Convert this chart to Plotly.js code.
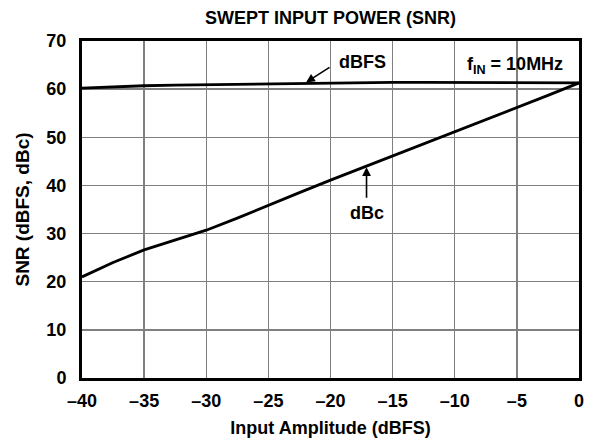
<!DOCTYPE html>
<html><head><meta charset="utf-8">
<script src="https://cdn.plot.ly/plotly-3.0.1.min.js"></script>
<style>body{margin:0;background:#fff}#chart{width:592px;height:445px}</style>
</head><body><div id="chart"></div>
<script>
const xVals = [-40, -37.5, -35, -32.5, -30, -27.5, -25, -22.5, -20, -17.5, -15, -12.5, -10, -7.5, -5, -2.5, 0];
const dbfs = [60.2, 60.5, 60.7, 60.85, 60.95, 61.0, 61.1, 61.15, 61.3, 61.35, 61.4, 61.4, 61.4, 61.4, 61.35, 61.3, 61.3];
const dbc  = [21.0, 24.0, 26.6, 28.7, 30.7, 33.2, 35.9, 38.5, 41.1, 43.6, 46.1, 48.6, 51.1, 53.6, 56.1, 58.7, 61.3];
const xTicks = [-40, -35, -30, -25, -20, -15, -10, -5, 0];
const xTickText = ["–40", "–35", "–30", "–25", "–20", "–15", "–10", "–5", "0"];
const yTicks = [0, 10, 20, 30, 40, 50, 60, 70];

const fam = "Liberation Sans, Arial, Helvetica, sans-serif";
const f = (s) => ({family: fam, size: s, color: "#000", weight: "bold"});
const traces = [
  {x: xVals, y: dbfs, mode: "lines", line: {color: "#000", width: 2.8}, hoverinfo: "skip"},
  {x: xVals, y: dbc, mode: "lines", line: {color: "#000", width: 2.8}, hoverinfo: "skip"}
];
const layout = {
  width: 592, height: 445,
  margin: {l: 82, r: 13, t: 41, b: 67},
  paper_bgcolor: "#fff", plot_bgcolor: "#fff",
  showlegend: false,
  font: f(17),
  title: {text: "<b>SWEPT INPUT POWER (SNR)</b>", x: 0.5, xref: "paper", xanchor: "center", y: 1 - 18/445, yanchor: "middle", font: f(18)},
  xaxis: {range: [-40, 0], tickvals: xTicks, ticktext: xTickText, showgrid: true, gridcolor: "#808080", gridwidth: 1.3,
    zeroline: false, showline: true, mirror: true, linecolor: "#000", linewidth: 3,
    ticks: "outside", ticklen: 4, tickcolor: "rgba(0,0,0,0)",
    tickfont: f(18),
    title: {text: "<b>Input Amplitude (dBFS)</b>", font: f(18), standoff: 12}},
  yaxis: {range: [0, 70], tickvals: yTicks, showgrid: true, gridcolor: "#808080", gridwidth: 1.3,
    zeroline: false, showline: true, mirror: true, linecolor: "#000", linewidth: 3,
    ticks: "outside", ticklen: 9, tickcolor: "rgba(0,0,0,0)",
    tickfont: f(18),
    title: {text: "<b>SNR (dBFS, dBc)</b>", font: f(19), standoff: 12}},
  annotations: [
    {x: -21.97, y: 61.4, xref: "x", yref: "y", ax: 25, ay: -16, showarrow: true, arrowhead: 2, arrowsize: 1.1, arrowwidth: 1.6, arrowcolor: "#000", text: ""},
    {x: -17.4, y: 65.6, xref: "x", yref: "y", text: "<b>dBFS</b>", showarrow: false, xanchor: "center", yanchor: "middle", font: f(18)},
    {x: -17.1, y: 43.8, xref: "x", yref: "y", ax: 0, ay: 32, showarrow: true, arrowhead: 2, arrowsize: 1.1, arrowwidth: 1.6, arrowcolor: "#000", text: ""},
    {x: -17.1, y: 34.3, xref: "x", yref: "y", text: "<b>dBc</b>", showarrow: false, xanchor: "center", yanchor: "middle", font: f(18)},
    {x: -9.2, y: 65.0, xref: "x", yref: "y", text: "<b>f<sub>IN</sub> = 10MHz</b>", showarrow: false, xanchor: "left", yanchor: "middle", font: f(18)}
  ]
};
Plotly.newPlot("chart", traces, layout, {staticPlot: true, displayModeBar: false});
</script></body></html>
